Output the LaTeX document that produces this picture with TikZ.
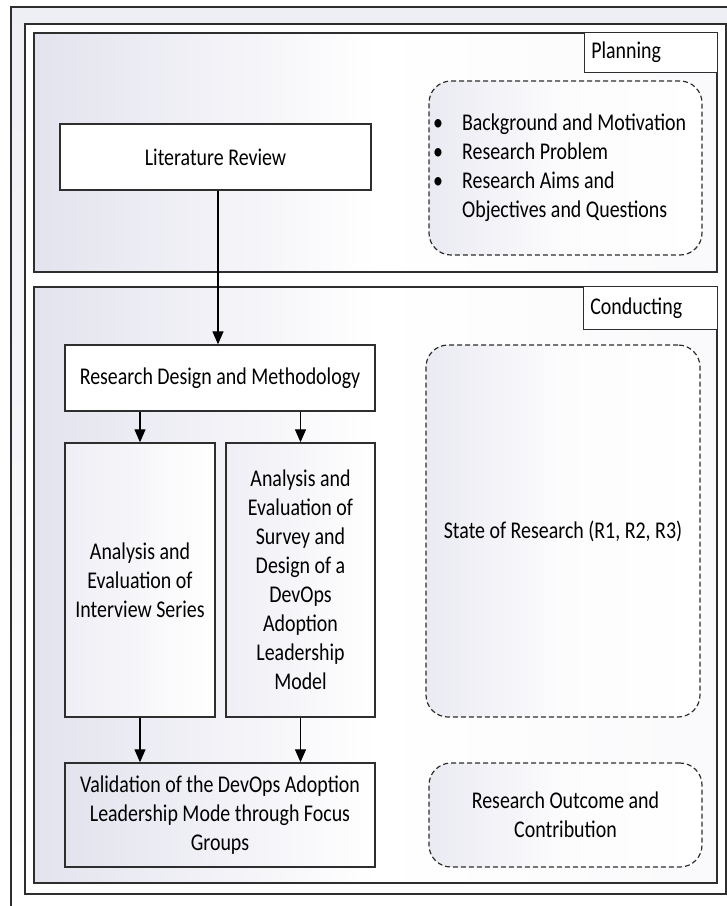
\documentclass[tikz,border=0pt]{standalone}
\usepackage{fontspec}
\setmainfont{Carlito}[FakeStretch=0.83]
\usetikzlibrary{arrows.meta,calc}
\definecolor{lav}{HTML}{E3E3EE}
\definecolor{edge}{HTML}{2E2E2E}
\begin{document}
\begin{tikzpicture}[x=1pt,y=-1pt,
  font=\fontsize{24}{29}\selectfont,
  region/.style={draw=edge, line width=1.5pt, inner sep=0pt,
    left color=lav, right color=lav!20, middle color=white},
  tag/.style={draw=edge, line width=0.9pt, fill=white, anchor=north east,
    align=left, inner xsep=7pt, inner ysep=0pt},
  stepbox/.style={draw=edge, line width=1.4pt, inner sep=0pt, align=center},
  softbox/.style={stepbox, left color=lav!60, right color=white},
  dbox/.style={draw=edge, line width=1.2pt, dash pattern=on 5pt off 3pt,
    rounded corners=22pt, inner sep=0pt, align=center,
    left color=lav!75, right color=white, middle color=white!90!lav},
  arr/.style={draw=black, line width=1.3pt, -{Triangle[width=11pt,length=13pt]}}
]
\useasboundingbox (0,0) rectangle (727,906);
\begin{scope}
\clip (0,0) rectangle (727,906);
\fill[white] (0,0) rectangle (727,906);
% outer frames
\draw[line width=1.2pt, draw=edge, top color=lav!60, bottom color=white] (11,7) rectangle (745,925);
\draw[line width=1.3pt, draw=edge, fill=white] (25,24) rectangle (726,894);
\end{scope}

% the two phases
\node[region, minimum width=683pt, minimum height=239pt] (planning) at (375.5,152.5) {};
\node[region, minimum width=683pt, minimum height=596pt] (conducting) at (375.5,585) {};
\node[tag, text width=119pt, minimum height=40pt] (plantag) at (planning.north east) {Planning};
\node[tag, text width=120pt, minimum height=43pt] (condtag) at (conducting.north east) {Conducting};

% planning phase
\node[stepbox, fill=white, minimum width=311pt, minimum height=66pt] (lit) at (215.5,157) {Literature Review};
\node[dbox, minimum width=273pt, minimum height=174pt] (aims) at (565.5,168) {};
\node[anchor=west, inner sep=0pt, align=left] (aimlist) at (433,168.5) {%
  \begin{tabular}{@{}c@{\hspace{19pt}}l@{}}
  \textbullet & Background and Motivation\\
  \textbullet & Research Problem\\
  \textbullet & Research Aims and\\
              & Objectives and Questions
  \end{tabular}};

% conducting phase
\node[stepbox, fill=white, minimum width=310pt, minimum height=66pt] (rd) at (220,378) {Research Design and Methodology};
\node[softbox, minimum width=150pt, minimum height=274pt] (ivw) at (140,580)
  {Analysis and\\Evaluation of\\Interview Series};
\node[softbox, minimum width=149pt, minimum height=274pt] (srv) at (300.5,580)
  {Analysis and\\Evaluation of\\Survey and\\Design of a\\DevOps\\Adoption\\Leadership\\Model};
\node[stepbox, left color=lav, right color=white, minimum width=310pt, minimum height=104pt] (val) at (220,815)
  {Validation of the DevOps Adoption\\Leadership Mode through Focus\\Groups};
\node[dbox, minimum width=274pt, minimum height=372pt] (state) at (563,531) {State of Research (R1, R2, R3)};
\node[dbox, minimum width=273pt, minimum height=104pt] (outc) at (565.5,815) {Research Outcome and\\Contribution};

% flow
\draw[arr] ($(lit.south)+(2.5,0)$) -- ($(lit.south |- rd.north)+(2.5,0)$);
\draw[arr] (ivw.north |- rd.south) -- (ivw.north);
\draw[arr] (srv.north |- rd.south) -- (srv.north);
\draw[arr] (ivw.south) -- (ivw.south |- val.north);
\draw[arr] (srv.south) -- (srv.south |- val.north);
\end{tikzpicture}
\end{document}
